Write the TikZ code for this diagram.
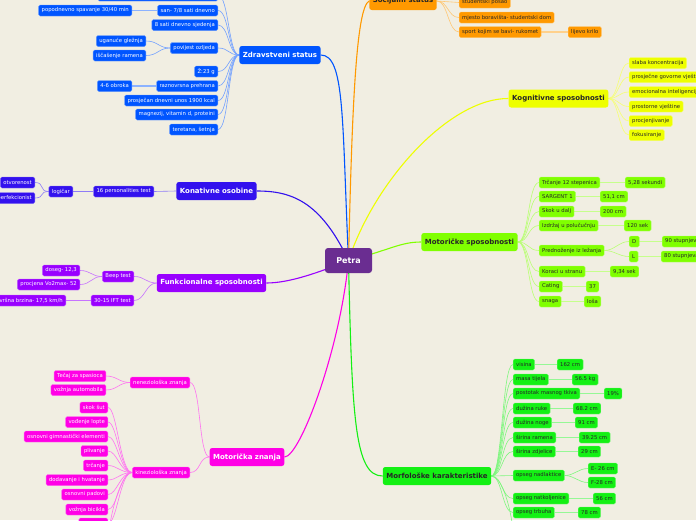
\documentclass[tikz,border=0pt]{standalone}
\usepackage{fontspec}
\setmainfont{DejaVu Sans}
\definecolor{bg}{RGB}{241,238,226}
\definecolor{croot}{RGB}{106,45,145}
\definecolor{czd}{RGB}{0,85,255}
\definecolor{cso}{RGB}{255,153,0}
\definecolor{ckg}{RGB}{238,255,0}
\definecolor{cms}{RGB}{128,255,0}
\definecolor{cmk}{RGB}{20,240,20}
\definecolor{cko}{RGB}{51,17,238}
\definecolor{cfs}{RGB}{153,0,255}
\definecolor{cmz}{RGB}{255,0,230}
\pgfdeclarelayer{pozadina}
\pgfdeclarelayer{veze}
\pgfsetlayers{pozadina,veze,main}
\tikzset{
  root/.style={fill=croot, text=white, font=\bfseries\fontsize{8}{9}\selectfont,
    rounded corners=3pt, minimum width=47pt, minimum height=25pt},
  grana/.style={fill=#1, rounded corners=2.5pt, font=\bfseries\fontsize{7}{8}\selectfont,
    minimum height=18pt, inner xsep=3.5pt, inner ysep=0pt},
  listic/.style={fill=#1, draw=#1!60!white, line width=0.4pt, rounded corners=1.5pt,
    font=\fontsize{5.3}{6}\selectfont, minimum height=11pt, inner xsep=3pt, inner ysep=0pt},
  veza/.style={draw=#1, line width=1.1pt},
  grane/.style={draw=#1!55!white, line width=0.6pt},
  debela/.style={draw=#1!45!white, line width=1.3pt}
}
\begin{document}
\begin{tikzpicture}[x=1pt, y=-1pt,
  zdl/.style={listic=czd, text=white},
  sol/.style={listic=cso, text=black!85},
  kgl/.style={listic=ckg, text=black!85},
  msl/.style={listic=cms, text=black!85},
  mkl/.style={listic=cmk, text=black!85},
  kol/.style={listic=cko, text=white},
  fsl/.style={listic=cfs, text=white},
  mzl/.style={listic=cmz, text=white}]
\clip (0,0) rectangle (696,520);
\begin{pgfonlayer}{pozadina}
  \fill[bg] (0,0) rectangle (696,520);
\end{pgfonlayer}

% korijen i glavne grane
\node[root] (petra) at (348.5,260.5) {Petra};
\node[grana=czd, text=white] (zd) at (280,55) {Zdravstveni status};
\node[grana=cso, text=black!85] (so) at (403,1) {Socijalni status};
\node[grana=ckg, text=black!85] (kg) at (558.5,98.5) {Kognitivne sposobnosti};
\node[grana=cms, text=black!85] (ms) at (469.5,242) {Motoričke sposobnosti};
\node[grana=cmk, text=black!85] (mk) at (437,476) {Morfološke karakteristike};
\node[grana=cko, text=white] (ko) at (216.5,191) {Konativne osobine};
\node[grana=cfs, text=white] (fs) at (211.5,283) {Funkcionalne sposobnosti};
\node[grana=cmz, text=white] (mz) at (247,457) {Motorička znanja};

% Zdravstveni status
\node[zdl, anchor=east, minimum width=120pt] (zd0) at (218,-4.5) {};
\node[zdl, anchor=east] (zd1) at (218,10.5) {san- 7/8 sati dnevno};
\node[zdl, anchor=east] (zd2) at (218,25) {8 sati dnevno sjedenja};
\node[zdl, anchor=east] (zd3) at (218,48) {povijest ozljeda};
\node[zdl, anchor=east] (zd4) at (218,71.5) {Ž:23 g};
\node[zdl, anchor=east] (zd5) at (218,86) {raznovrsna prehrana};
\node[zdl, anchor=east] (zd6) at (218,100.5) {prosječan dnevni unos 1900 kcal};
\node[zdl, anchor=east] (zd7) at (218,114.5) {magnezij, vitamin d, proteini};
\node[zdl, anchor=east] (zd8) at (218,129.5) {teretana, šetnja};
\node[zdl, anchor=east] (zd1a) at (132,10.5) {popodnevno spavanje 30/40 min};
\node[zdl, anchor=east] (zd3a) at (146,41) {uganuće gležnja};
\node[zdl, anchor=east] (zd3b) at (146,55.5) {iščašenje ramena};
\node[zdl, anchor=east] (zd5a) at (132,86) {4-6 obroka};

% Socijalni status
\node[sol, anchor=west] (so1) at (459,2.5) {studentski posao};
\node[sol, anchor=west] (so2) at (459,17.5) {mjesto boravišta- studentski dom};
\node[sol, anchor=west] (so3) at (459,32) {sport kojim se bavi- rukomet};
\node[sol, anchor=west] (so3a) at (568,32) {lijevo krilo};

% Kognitivne sposobnosti
\node[kgl, anchor=west] (kg1) at (629,63) {slaba koncentracija};
\node[kgl, anchor=west] (kg2) at (629,77) {prosječne govorne vještine};
\node[kgl, anchor=west] (kg3) at (629,92) {emocionalna inteligencija};
\node[kgl, anchor=west] (kg4) at (629,106.5) {prostorne vještine};
\node[kgl, anchor=west] (kg5) at (629,121) {procjenjivanje};
\node[kgl, anchor=west] (kg6) at (629,135) {fokusiranje};

% Motoričke sposobnosti
\node[msl, anchor=west] (ms1) at (539,182.5) {Trčanje 12 stepenica};
\node[msl, anchor=west] (ms2) at (539,196.5) {SARGENT 1};
\node[msl, anchor=west] (ms3) at (539,211.5) {Skok u dalj};
\node[msl, anchor=west] (ms4) at (539,225.5) {Izdržaj u polučučnju};
\node[msl, anchor=west] (ms5) at (539,250.5) {Prednoženje iz ležanja};
\node[msl, anchor=west] (ms6) at (539,271.5) {Koraci u stranu};
\node[msl, anchor=west] (ms7) at (539,286.5) {Cating};
\node[msl, anchor=west] (ms8) at (539,301.5) {snaga};
\node[msl, anchor=west] (ms1a) at (625,182.5) {5,28 sekundi};
\node[msl, anchor=west] (ms2a) at (600,196.5) {51,1 cm};
\node[msl, anchor=west] (ms3a) at (600,211.5) {200 cm};
\node[msl, anchor=west] (ms4a) at (624,225.5) {120 sek};
\node[msl, anchor=west] (ms5a) at (629,241.5) {D};
\node[msl, anchor=west] (ms5b) at (629,256.5) {L};
\node[msl, anchor=west] (ms5a1) at (662,241.5) {90 stupnjeva};
\node[msl, anchor=west] (ms5b1) at (661,256.5) {80 stupnjeva};
\node[msl, anchor=west] (ms6a) at (610,271.5) {9,34 sek};
\node[msl, anchor=west] (ms7a) at (586,286.5) {37};
\node[msl, anchor=west] (ms8a) at (584,301.5) {loša};

% Morfološke karakteristike
\node[mkl, anchor=west] (mk1) at (513,364.5) {visina};
\node[mkl, anchor=west] (mk2) at (513,379.5) {masa tijela};
\node[mkl, anchor=west] (mk3) at (513,393.5) {postotak masnog tkiva};
\node[mkl, anchor=west] (mk4) at (513,408.5) {dužina ruke};
\node[mkl, anchor=west] (mk5) at (513,422.5) {dužina noge};
\node[mkl, anchor=west] (mk6) at (513,437.5) {širina ramena};
\node[mkl, anchor=west] (mk7) at (513,451.5) {širina zdjelice};
\node[mkl, anchor=west] (mk8) at (513,475.5) {opseg nadlaktice};
\node[mkl, anchor=west] (mk9) at (513,498.5) {opseg natkoljenice};
\node[mkl, anchor=west] (mk10) at (513,512.5) {opseg trbuha};
\coordinate (mk11) at (513,530);
\node[mkl, anchor=west] (mk1a) at (557,364.5) {162 cm};
\node[mkl, anchor=west] (mk2a) at (572,379.5) {56.5 kg};
\node[mkl, anchor=west] (mk3a) at (604,393.5) {19\%};
\node[mkl, anchor=west] (mk4a) at (573,408.5) {68.2 cm};
\node[mkl, anchor=west] (mk5a) at (575,422.5) {91 cm};
\node[mkl, anchor=west] (mk6a) at (579,437.5) {39.25 cm};
\node[mkl, anchor=west] (mk7a) at (578,451.5) {29 cm};
\node[mkl, anchor=west] (mk8a) at (588,468.5) {E- 26 cm};
\node[mkl, anchor=west] (mk8b) at (588,482.5) {F-28 cm};
\node[mkl, anchor=west] (mk9a) at (593,498.5) {56 cm};
\node[mkl, anchor=west] (mk10a) at (578,512.5) {78 cm};

% Konativne osobine
\node[kol, anchor=east] (ko1) at (154,191.5) {16 personalities test};
\node[kol, anchor=east] (ko1a) at (73,191.5) {logičar};
\node[kol, anchor=east] (ko1a1) at (35,182.5) {otvorenost};
\node[kol, anchor=east] (ko1a2) at (35,198) {perfekcionist};

% Funkcionalne sposobnosti
\node[fsl, anchor=east] (fs1) at (134,276.5) {Beep test};
\node[fsl, anchor=east] (fs2) at (134,300.5) {30-15 IFT test};
\node[fsl, anchor=east] (fs1a) at (80,270.5) {doseg- 12,3};
\node[fsl, anchor=east] (fs1b) at (80,284.5) {procjena Vo2max- 52};
\node[fsl, anchor=east] (fs2a) at (66,300.5) {završna brzina- 17,5 km/h};

% Motorička znanja
\node[mzl, anchor=east] (mz1) at (190,382.5) {neneziološka znanja};
\node[mzl, anchor=east] (mz2) at (190,472.5) {kineziološka znanja};
\node[mzl, anchor=east] (mz1a) at (106,376) {Tečaj za spasioca};
\node[mzl, anchor=east] (mz1b) at (106,390) {vožnja automobila};
\node[mzl, anchor=east] (mz2a) at (108,407.5) {skok šut};
\node[mzl, anchor=east] (mz2b) at (108,422) {vođenje lopte};
\node[mzl, anchor=east] (mz2c) at (108,436.5) {osnovni gimnastički elementi};
\node[mzl, anchor=east] (mz2d) at (108,451) {plivanje};
\node[mzl, anchor=east] (mz2e) at (108,465.5) {trčanje};
\node[mzl, anchor=east] (mz2f) at (108,480) {dodavanje i hvatanje};
\node[mzl, anchor=east] (mz2g) at (108,494.5) {osnovni padovi};
\node[mzl, anchor=east] (mz2h) at (108,509.5) {vožnja bicikla};
\node[mzl, anchor=east, minimum width=29pt] (mz2i) at (108,523.5) {};
\coordinate (mz2j) at (108,540);

\begin{pgfonlayer}{veze}
  % od korijena do grana
  \draw[veza=czd] (petra.center) .. controls (342,120) and (345,55) .. (zd.east);
  \draw[veza=cso] (petra.center) .. controls (352,110) and (356,8) .. (so.west);
  \draw[veza=ckg] (petra.center) .. controls (375,180) and (450,98) .. (kg.west);
  \draw[veza=cms] (petra.center) .. controls (390,250) and (400,242) .. (ms.west);
  \draw[veza=cmk] (petra.center) .. controls (352,420) and (355,476) .. (mk.west);
  \draw[veza=cmz] (petra.center) .. controls (340,350) and (300,457) .. (mz.east);
  \draw[veza=cko] (petra.center) .. controls (320,200) and (290,191) .. (ko.east);
  \draw[veza=cfs] (petra.center) .. controls (320,272) and (290,283) .. (fs.east);

  % od grana do listica
  \foreach \c in {zd0,zd1,zd2,zd3,zd4,zd5,zd6,zd7,zd8}
    \draw[grane=czd] (zd.west) .. controls +(-11,0) and +(11,0) .. (\c.east);
  \foreach \c in {so1,so2,so3}
    \draw[grane=cso] (so.east) .. controls +(11,0) and +(-11,0) .. (\c.west);
  \foreach \c in {kg1,kg2,kg3,kg4,kg5,kg6}
    \draw[grane=ckg] (kg.east) .. controls +(10,0) and +(-10,0) .. (\c.west);
  \foreach \c in {ms1,ms2,ms3,ms4,ms5,ms6,ms7,ms8}
    \draw[grane=cms] (ms.east) .. controls +(11,0) and +(-11,0) .. (\c.west);
  \foreach \c in {mk1,mk2,mk3,mk4,mk5,mk6,mk7,mk8,mk9,mk10}
    \draw[grane=cmk] (mk.east) .. controls +(11,0) and +(-11,0) .. (\c.west);
  \draw[grane=cmk] (mk.east) .. controls +(11,0) and +(-2,-20) .. (mk11);
  \draw[grane=cko] (ko.west) -- (ko1.east);
  \foreach \c in {fs1,fs2}
    \draw[grane=cfs] (fs.west) .. controls +(-11,0) and +(11,0) .. (\c.east);
  \foreach \c in {mz1,mz2}
    \draw[grane=cmz] (mz.west) .. controls +(-11,0) and +(11,0) .. (\c.east);

  % treca razina
  \draw[debela=czd] (zd1.west) -- (zd1a.east);
  \draw[debela=czd] (zd5.west) -- (zd5a.east);
  \foreach \c in {zd3a,zd3b}
    \draw[grane=czd] (zd3.west) .. controls +(-12,0) and +(12,0) .. (\c.east);
  \draw[debela=cso] (so3.east) -- (so3a.west);
  \draw[debela=cms] (ms1.east) -- (ms1a.west);
  \draw[debela=cms] (ms2.east) -- (ms2a.west);
  \draw[debela=cms] (ms3.east) -- (ms3a.west);
  \draw[debela=cms] (ms4.east) -- (ms4a.west);
  \draw[debela=cms] (ms6.east) -- (ms6a.west);
  \draw[debela=cms] (ms7.east) -- (ms7a.west);
  \draw[debela=cms] (ms8.east) -- (ms8a.west);
  \foreach \c in {ms5a,ms5b}
    \draw[grane=cms] (ms5.east) .. controls +(10,0) and +(-10,0) .. (\c.west);
  \draw[debela=cms] (ms5a.east) -- (ms5a1.west);
  \draw[debela=cms] (ms5b.east) -- (ms5b1.west);
  \draw[debela=cmk] (mk1.east) -- (mk1a.west);
  \draw[debela=cmk] (mk2.east) -- (mk2a.west);
  \draw[debela=cmk] (mk3.east) -- (mk3a.west);
  \draw[debela=cmk] (mk4.east) -- (mk4a.west);
  \draw[debela=cmk] (mk5.east) -- (mk5a.west);
  \draw[debela=cmk] (mk6.east) -- (mk6a.west);
  \draw[debela=cmk] (mk7.east) -- (mk7a.west);
  \draw[debela=cmk] (mk9.east) -- (mk9a.west);
  \draw[debela=cmk] (mk10.east) -- (mk10a.west);
  \foreach \c in {mk8a,mk8b}
    \draw[grane=cmk] (mk8.east) .. controls +(10,0) and +(-10,0) .. (\c.west);
  \draw[grane=cko] (ko1.west) -- (ko1a.east);
  \foreach \c in {ko1a1,ko1a2}
    \draw[grane=cko] (ko1a.west) .. controls +(-10,0) and +(10,0) .. (\c.east);
  \foreach \c in {fs1a,fs1b}
    \draw[grane=cfs] (fs1.west) .. controls +(-11,0) and +(11,0) .. (\c.east);
  \draw[grane=cfs] (fs2.west) -- (fs2a.east);
  \foreach \c in {mz1a,mz1b}
    \draw[grane=cmz] (mz1.west) .. controls +(-11,0) and +(11,0) .. (\c.east);
  \foreach \c in {mz2a,mz2b,mz2c,mz2d,mz2e,mz2f,mz2g,mz2h,mz2i}
    \draw[grane=cmz] (mz2.west) .. controls +(-12,0) and +(9,0) .. (\c.east);
  \draw[grane=cmz] (mz2.west) .. controls +(-12,0) and +(1,-20) .. (mz2j);
\end{pgfonlayer}
\end{tikzpicture}
\end{document}
